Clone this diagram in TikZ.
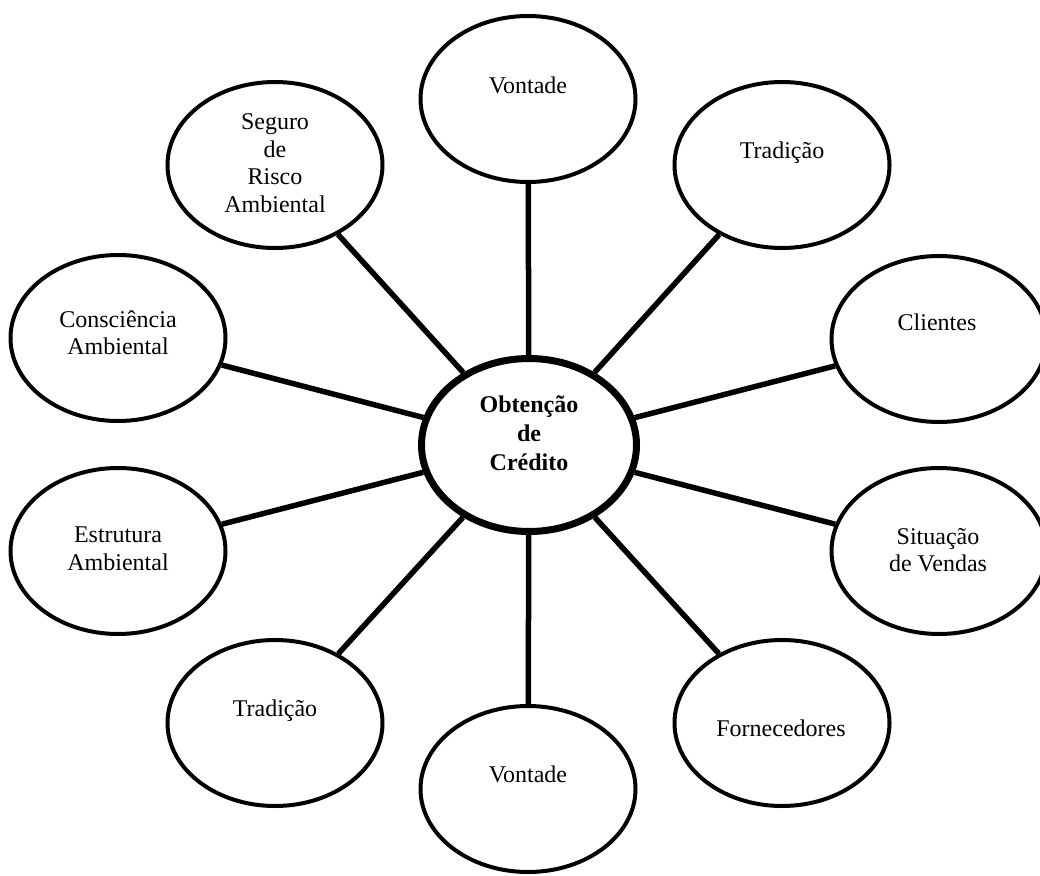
\documentclass[tikz,border=0pt]{standalone}
\usepackage{fontspec}
\setmainfont{Liberation Serif}
\usetikzlibrary{shapes.geometric}
\begin{document}
\begin{tikzpicture}[x=1pt,y=-1pt,line join=round,font=\fontsize{24}{27.5}\selectfont]
	\tikzset{bolha/.style={ellipse,draw,line width=4pt,minimum width=215pt,minimum height=166pt,inner sep=0pt},
		texto/.style={align=center,inner sep=0pt},
		raio/.style={line width=5.5pt}}
	\useasboundingbox (0,0) rectangle (1040,875);
	\node[ellipse,draw,line width=7pt,minimum width=215pt,minimum height=173pt,inner sep=0pt] (cred) at (529,445) {};
	\node[texto,font=\fontsize{24}{29}\selectfont\bfseries] (credt) at (529,433) {Obtenção\\de\\Crédito};
	% bolhas em volta
	\node[bolha] (vontadeA) at (528,99) {};
	\node[bolha] (tradicaoA) at (782,165) {};
	\node[bolha] (clientes) at (939,339) {};
	\node[bolha] (vendas) at (939,551) {};
	\node[bolha] (fornec) at (782,723) {};
	\node[bolha] (vontadeB) at (528,789) {};
	\node[bolha] (tradicaoB) at (275,723) {};
	\node[bolha] (estrutura) at (118,551) {};
	\node[bolha] (consc) at (118,338) {};
	\node[bolha] (seguro) at (275,165) {};
	\node[texto] (vontadeAt) at (528,85) {Vontade};
	\node[texto] (tradicaoAt) at (782,153) {Tradição};
	\node[texto] (clientest) at (937,322) {Clientes};
	\node[texto] (vendast) at (938,550) {Situação\\de Vendas};
	\node[texto] (fornect) at (781,728) {Fornecedores};
	\node[texto] (vontadeBt) at (528,774) {Vontade};
	\node[texto] (tradicaoBt) at (275,711) {Tradição};
	\node[texto] (estruturat) at (118,549) {Estrutura\\Ambiental};
	\node[texto] (consct) at (118,333) {Consciência\\Ambiental};
	\node[texto] (segurot) at (275,163) {Seguro\\de\\Risco\\Ambiental};
	\foreach \n in {vontadeA,tradicaoA,clientes,vendas,fornec,vontadeB,tradicaoB,estrutura,consc,seguro}{
		\draw[raio] (cred) -- (\n);}
\end{tikzpicture}
\end{document}
